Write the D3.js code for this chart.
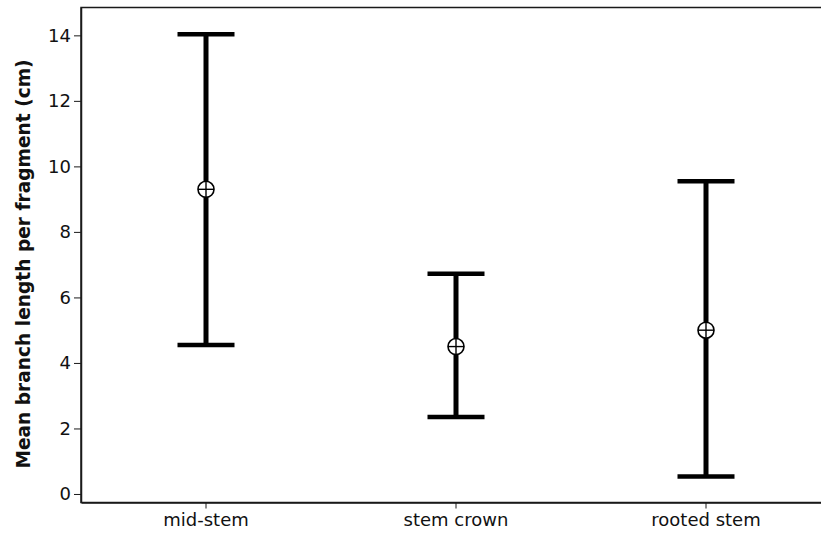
<!DOCTYPE html>
<html>
<head>
<meta charset="utf-8">
<script src="https://cdn.jsdelivr.net/npm/d3@7"></script>
<style>
  html, body { margin: 0; padding: 0; background: #fff; }
  svg { display: block; }
</style>
</head>
<body>
<svg id="chart" width="821" height="539"></svg>
<script>
// Fragment types and interval summaries of branch length (cm)
const categories = ["mid-stem", "stem crown", "rooted stem"];
const means = [9.3, 4.5, 5.0];
const lower = [4.55, 2.35, 0.53];
const upper = [14.03, 6.72, 9.55];
const yTicks = [0, 2, 4, 6, 8, 10, 12, 14];

const svg = d3.select("#chart");
const plotLeft = 81, plotTop = 7.5, plotBottom = 502.5, plotRight = 831;

const x = d3.scaleBand().domain(categories).range([plotLeft, plotRight]).padding(0);
const y = d3.scaleLinear().domain([-0.26, 14.85]).range([plotBottom, plotTop]);

const font = "'DejaVu Sans', Verdana, sans-serif";

// plot frame
svg.append("rect")
  .attr("x", plotLeft).attr("y", plotTop)
  .attr("width", plotRight - plotLeft).attr("height", plotBottom - plotTop)
  .attr("fill", "none").attr("stroke", "#1a1a1a").attr("stroke-width", 1.5);

// y axis
const yAxis = svg.append("g")
  .attr("transform", `translate(${plotLeft},0)`)
  .call(d3.axisLeft(y).tickValues(yTicks).tickSize(7).tickPadding(3).tickSizeOuter(0));
yAxis.select(".domain").attr("stroke", "#1a1a1a").attr("stroke-width", 1.5);
yAxis.selectAll(".tick line").attr("stroke", "#1a1a1a").attr("stroke-width", 1);
yAxis.selectAll(".tick text")
  .attr("font-family", font).attr("font-size", 18).attr("fill", "#111");

// x axis
const xAxis = svg.append("g")
  .attr("transform", `translate(0,${plotBottom})`)
  .call(d3.axisBottom(x).tickSize(6).tickPadding(5).tickSizeOuter(0));
xAxis.select(".domain").attr("stroke", "#1a1a1a").attr("stroke-width", 1.5);
xAxis.selectAll(".tick line").attr("stroke", "#1a1a1a").attr("stroke-width", 1);
xAxis.selectAll(".tick text")
  .attr("font-family", font).attr("font-size", 18).attr("fill", "#111");

// y axis title
svg.append("text")
  .attr("transform", `translate(30,264) rotate(-90)`)
  .attr("text-anchor", "middle")
  .attr("font-family", font).attr("font-size", 18.6).attr("font-weight", "bold")
  .attr("fill", "#111")
  .text("Mean branch length per fragment (cm)");

// interval bars
const capHalf = 28.5;
const data = categories.map((c, i) => ({ c, m: means[i], lo: lower[i], hi: upper[i] }));
const g = svg.append("g");
const cx = d => x(d.c) + x.bandwidth() / 2;

g.selectAll("line.stem").data(data).join("line").attr("class", "stem")
  .attr("x1", cx).attr("x2", cx)
  .attr("y1", d => y(d.lo)).attr("y2", d => y(d.hi))
  .attr("stroke", "#000").attr("stroke-width", 5);

g.selectAll("line.capHi").data(data).join("line").attr("class", "capHi")
  .attr("x1", d => cx(d) - capHalf).attr("x2", d => cx(d) + capHalf)
  .attr("y1", d => y(d.hi)).attr("y2", d => y(d.hi))
  .attr("stroke", "#000").attr("stroke-width", 4.5);

g.selectAll("line.capLo").data(data).join("line").attr("class", "capLo")
  .attr("x1", d => cx(d) - capHalf).attr("x2", d => cx(d) + capHalf)
  .attr("y1", d => y(d.lo)).attr("y2", d => y(d.lo))
  .attr("stroke", "#000").attr("stroke-width", 4.5);

// mean symbols (circled plus)
const r = 8;
g.selectAll("circle.mean").data(data).join("circle").attr("class", "mean")
  .attr("cx", cx).attr("cy", d => y(d.m)).attr("r", r)
  .attr("fill", "#fff").attr("stroke", "#000").attr("stroke-width", 1.6);
g.selectAll("line.mh").data(data).join("line").attr("class", "mh")
  .attr("x1", d => cx(d) - r).attr("x2", d => cx(d) + r)
  .attr("y1", d => y(d.m)).attr("y2", d => y(d.m))
  .attr("stroke", "#000").attr("stroke-width", 1.4);
g.selectAll("line.mv").data(data).join("line").attr("class", "mv")
  .attr("x1", cx).attr("x2", cx)
  .attr("y1", d => y(d.m) - r).attr("y2", d => y(d.m) + r)
  .attr("stroke", "#000").attr("stroke-width", 1.4);
</script>
</body>
</html>
